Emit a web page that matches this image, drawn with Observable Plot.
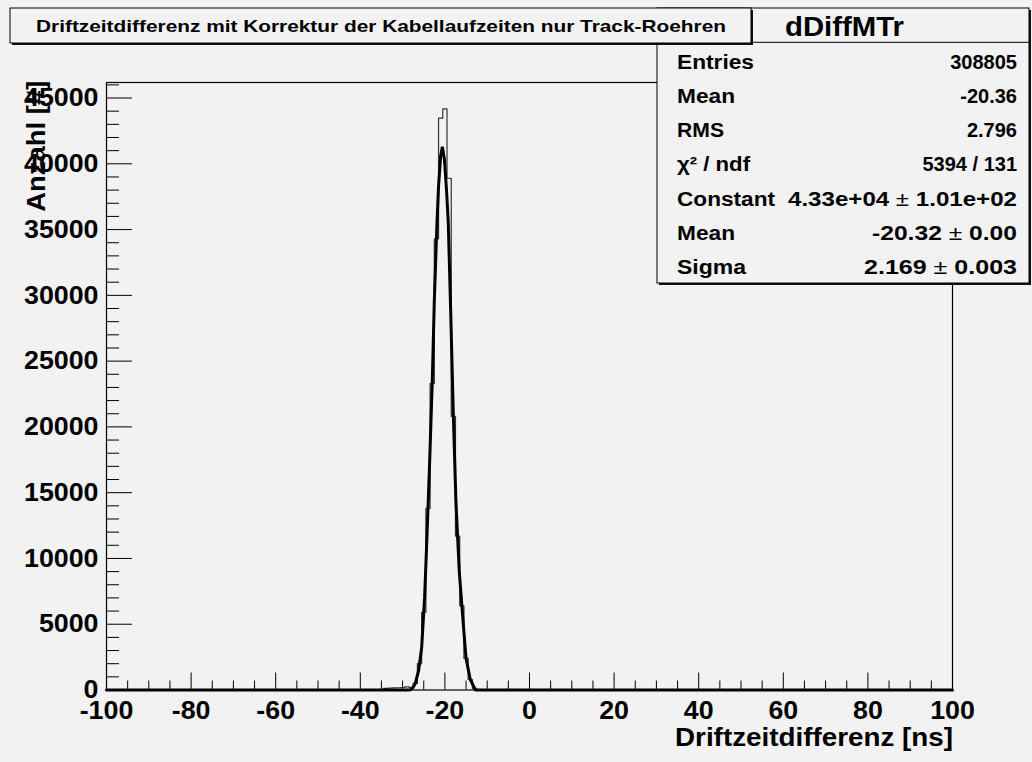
<!DOCTYPE html>
<html><head><meta charset="utf-8">
<script src="https://cdn.jsdelivr.net/npm/d3@7"></script>
<script src="https://cdn.jsdelivr.net/npm/@observablehq/plot@0.6"></script>
<style>
html,body{margin:0;padding:0;background:#f2f2f2;}
#chart{position:relative;width:1032px;height:762px;overflow:hidden;}
svg{display:block}
</style></head><body><div id="chart"></div>
<script>
// ---------- data ----------
const binCenters = [-34,-33,-32,-31,-30,-29,-28,-27,-26,-25,-24,-23,-22,-21,-20,-19,-18,-17,-16,-15,-14,-13,-12];
const binCounts  = [130,150,160,170,190,230,200,500,2000,5900,13800,23300,34300,43470,44180,38900,20800,11700,6400,2400,800,130,20];
const binWidth = 1;

const fitX = [-100,-28.3,-27.6,-27.0,-26.2,-25.5,-24.8,-24.2,-23.6,-23.0,-22.5,-21.9,-21.5,-21.0,-20.6,-20.1,-19.6,-19.2,-18.6,-18.0,-17.4,-16.6,-15.6,-15.0,-14.0,-12.8,100];
const fitY = [0,0,150,500,1500,3200,7000,12000,17400,23300,29600,35300,38300,40600,41300,40300,37900,35500,28400,20800,14400,9000,4800,2400,800,0,0];

const xMajor = [-100,-80,-60,-40,-20,0,20,40,60,80,100];
const xMinor = [-95,-90,-85,-75,-70,-65,-55,-50,-45,-35,-30,-25,-15,-10,-5,5,10,15,25,30,35,45,50,55,65,70,75,85,90,95];
const yMajor = [0,5000,10000,15000,20000,25000,30000,35000,40000,45000];
const yMinor = [1000,2000,3000,4000,6000,7000,8000,9000,11000,12000,13000,14000,16000,17000,18000,19000,21000,22000,23000,24000,26000,27000,28000,29000,31000,32000,33000,34000,36000,37000,38000,39000,41000,42000,43000,44000,46000];

const titleText = "Driftzeitdifferenz mit Korrektur der Kabellaufzeiten nur Track-Roehren";
const statName = "dDiffMTr";
const statLabels = ["Entries","Mean","RMS","χ² / ndf","Constant","Mean","Sigma"];
const statValues = [["308805"],["-20.36"],["2.796"],["5394 / 131"],["4.33e+04 ","±"," 1.01e+02"],["-20.32 ","±"," 0.00"],["2.169 ","±"," 0.003"]];
const xTitle = "Driftzeitdifferenz [ns]";
const yTitle = "Anzahl [#]";

// ---------- build series ----------
const histPts = [{x: -100, y: 0}];
binCenters.forEach((c, i) => histPts.push({x: c - binWidth / 2, y: binCounts[i]}));
histPts.push({x: binCenters[binCenters.length - 1] + binWidth / 2, y: 0});
histPts.push({x: 100, y: 0});
const fitPts = fitX.map((x, i) => ({x, y: fitY[i]}));

const BG = "#f2f2f2";
const FONT = "'Liberation Sans', Arial, Helvetica, sans-serif";

const plot = Plot.plot({
  width: 1032, height: 762,
  marginLeft: 106, marginRight: 80, marginTop: 82, marginBottom: 72.5,
  x: {domain: [-100, 100], label: null},
  y: {domain: [0, 46180], label: null},
  style: {background: "transparent", fontFamily: FONT, fontWeight: "bold", color: "black", overflow: "visible"},
  marks: [
    Plot.line(histPts, {x: "x", y: "y", curve: "step-after", stroke: "#333", strokeWidth: 1.2}),
    Plot.line(fitPts, {x: "x", y: "y", stroke: "black", strokeWidth: 3, strokeLinejoin: "miter"}),
    Plot.frame({stroke: "black", strokeWidth: 1.2}),
    Plot.axisY(yMinor, {tickSize: -13, fill: "none", stroke: "black"}),
    Plot.axisY(yMajor, {tickSize: -26, fill: "none", stroke: "black"}),
    Plot.axisX(xMinor, {tickSize: -9, fill: "none", stroke: "black"}),
    Plot.axisX(xMajor, {tickSize: -17, fill: "none", stroke: "black"}),
    Plot.axisY(yMajor, {tickSize: 0, tickPadding: 8, fontSize: 25.5, tickFormat: d => String(d), label: null}),
    Plot.axisX(xMajor, {tickSize: 0, tickPadding: 10.5, fontSize: 25.5, tickFormat: d => String(d), label: null})
  ]
});
document.getElementById("chart").appendChild(plot);

// stretch tick labels slightly (original font is a bit wider)
d3.select(plot).selectAll("g[aria-label='y-axis tick label'] text, g[aria-label='x-axis tick label'] text").each(function() {
  const l = this.getComputedTextLength();
  this.setAttribute("textLength", l * 1.05);
  this.setAttribute("lengthAdjust", "spacingAndGlyphs");
});

// ---------- annotations ----------
const g = d3.select(plot).append("g").attr("font-family", FONT).attr("font-weight", "bold").attr("fill", "black");

function pave(x, y, w, h) {
  g.append("rect").attr("x", x + 2).attr("y", y + 2).attr("width", w).attr("height", h).attr("fill", "#111");
  g.append("rect").attr("x", x).attr("y", y).attr("width", w).attr("height", h).attr("fill", BG).attr("stroke", "black").attr("stroke-width", 1);
}
function txt(parts, x, y, size, anchor, len, transform) {
  const t = g.append("text").attr("x", x).attr("y", y).attr("font-size", size).attr("text-anchor", anchor);
  if (transform) t.attr("transform", transform);
  if (parts.length === 1) {
    t.text(parts[0]);
  } else {
    parts.forEach(p => {
      const s = t.append("tspan").text(p);
      if (p === "±") s.attr("font-weight", "normal");
    });
  }
  if (len) t.attr("textLength", len).attr("lengthAdjust", "spacingAndGlyphs");
  return t;
}

// stats box
pave(657, 8, 372, 275);
g.append("line").attr("x1", 657).attr("x2", 1029).attr("y1", 42.3).attr("y2", 42.3).attr("stroke", "black");
txt([statName], 844.5, 36, 28, "middle", 119);
const labelW = [77, 58, 47, 73, 98, 58, 69];
const valueW = [null, null, null, null, 229, 145, 153];
statLabels.forEach((s, i) => {
  const yb = 69 + i * 34.15;
  txt([s], 677, yb, 20, "start", labelW[i]);
  txt(statValues[i], 1017, yb, 20, "end", valueW[i]);
});

// title box
pave(10, 8, 741, 35);
txt([titleText], 381, 32, 17, "middle", 690);

// axis titles
txt([xTitle], 953, 746, 26, "end", 278);
txt([yTitle], 0, 0, 25, "end", 131, "translate(45,80.7) rotate(-90)");
</script>
</body></html>
